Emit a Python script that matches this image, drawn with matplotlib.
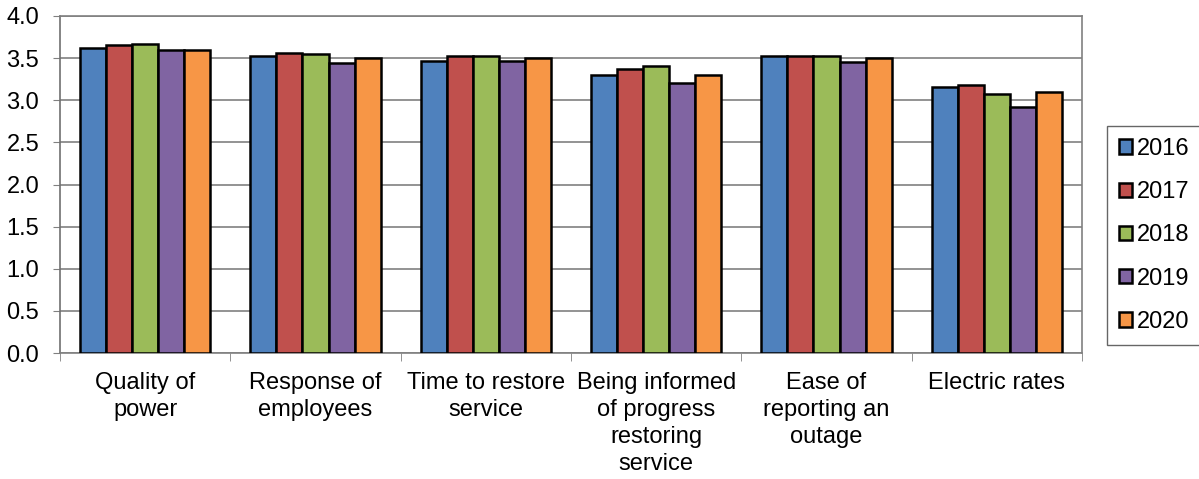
import matplotlib.pyplot as plt
import numpy as np

plt.rcParams['font.family'] = ['Liberation Sans', 'DejaVu Sans']

categories = ['Quality of\npower', 'Response of\nemployees', 'Time to restore\nservice',
              'Being informed\nof progress\nrestoring\nservice', 'Ease of\nreporting an\noutage',
              'Electric rates']
years = ['2016', '2017', '2018', '2019', '2020']
v2016 = [3.62, 3.52, 3.46, 3.30, 3.52, 3.16]
v2017 = [3.66, 3.56, 3.53, 3.37, 3.52, 3.18]
v2018 = [3.67, 3.55, 3.53, 3.41, 3.53, 3.08]
v2019 = [3.60, 3.44, 3.46, 3.21, 3.45, 2.92]
v2020 = [3.60, 3.50, 3.50, 3.30, 3.50, 3.10]
series = [v2016, v2017, v2018, v2019, v2020]
colors = ['#4F81BD', '#C0504D', '#9BBB59', '#8064A2', '#F79646']

fs = 17
fig = plt.figure(figsize=(11.99, 4.79), dpi=100)
ax = fig.add_axes([60/1199, 1 - 353/479, (1082-60)/1199, (353-16)/479])

x = np.arange(len(categories))
w = 0.153
for i, (vals, c, yr) in enumerate(zip(series, colors, years)):
    ax.bar(x + (i - 2) * w, vals, w, color=c, edgecolor='black', linewidth=1.8, label=yr, zorder=3)

ax.set_xlim(-0.5, len(categories) - 0.5)
ax.set_ylim(0, 4.0)
ax.set_yticks(np.arange(0, 4.01, 0.5))
ax.set_yticklabels([f'{v:.1f}' for v in np.arange(0, 4.01, 0.5)], fontsize=fs)
ax.yaxis.grid(True, color='#808080', linewidth=1.2, zorder=0)

ax.set_xticks(x)
ax.set_xticklabels(categories, fontsize=fs, linespacing=1.28)
ax.tick_params(axis='x', which='major', length=0, pad=14)
ax.set_xticks(np.arange(-0.5, len(categories), 1), minor=True)
ax.tick_params(axis='x', which='minor', length=6, color='#808080', direction='out')
ax.tick_params(axis='y', length=5, color='#808080', direction='out', pad=10)

for s in ax.spines.values():
    s.set_color('#808080')
    s.set_linewidth(1.2)
ax.spines['left'].set_color('#707070')

leg = fig.legend(loc='upper left', bbox_to_anchor=(1107/1199, 1 - 126/479), fontsize=fs,
                 frameon=True, fancybox=False, edgecolor='#404040', labelspacing=0.9,
                 handlelength=0.55, handleheight=0.55, handletextpad=0.2, borderpad=0.5,
                 borderaxespad=0)
leg.get_frame().set_linewidth(1.0)

fig.savefig('out.png', dpi=100)
